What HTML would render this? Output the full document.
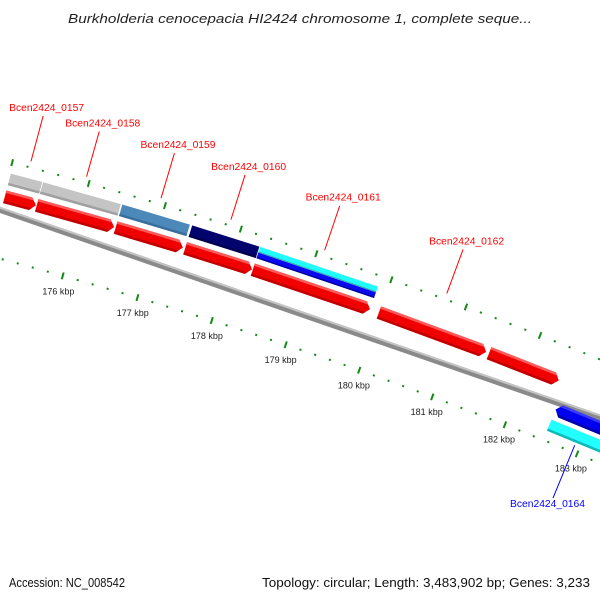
<!DOCTYPE html>
<html><head><meta charset="utf-8"><style>
html,body{margin:0;padding:0;background:#fff;width:600px;height:600px;overflow:hidden}
svg{display:block}
</style></head><body>
<svg id="map" width="600" height="600" viewBox="0 0 600 600" xmlns="http://www.w3.org/2000/svg" font-family="'Liberation Sans', 'DejaVu Sans', sans-serif">
<rect width="600" height="600" fill="#fff"/>
<text x="300" y="23" text-anchor="middle" font-size="13" font-style="italic" fill="#222" textLength="464" lengthAdjust="spacingAndGlyphs">Burkholderia cenocepacia HI2424 chromosome 1, complete seque...</text>
<g id="plot"></g>
<text x="9" y="587" font-size="12.5" fill="#111" textLength="116" lengthAdjust="spacingAndGlyphs">Accession: NC_008542</text>
<text x="262" y="587" font-size="12.5" fill="#111" textLength="328" lengthAdjust="spacingAndGlyphs">Topology: circular; Length: 3,483,902 bp; Genes: 3,233</text>
</svg>
<script>
// data (kbp)
const geneNames = ["Bcen2424_0157","Bcen2424_0158","Bcen2424_0159","Bcen2424_0160","Bcen2424_0161","Bcen2424_0162","Bcen2424_0163","Bcen2424_0164"];
const geneStart = [175.02,175.44,176.48,177.40,178.30,179.99,181.48,182.53];
const geneEnd   = [175.43,176.46,177.37,178.29,179.87,181.44,182.43,183.33];
const geneStrand = [1,1,1,1,1,1,1,-1];
const geneLabeled = [1,1,1,1,1,1,0,1];
const descColor = ["gray","gray","steel","navy","cyanblue","none","none","cyan"];
const majorTicks = [175,176,177,178,179,180,181,182,183,184];
const tickLabels = ["175 kbp","176 kbp","177 kbp","178 kbp","179 kbp","180 kbp","181 kbp","182 kbp","183 kbp","184 kbp"];

const NS = "http://www.w3.org/2000/svg";
const plot = document.getElementById('plot');
const CX = -1196, CY = 4745, R = 4690, PHI0 = 15.73, DEG_PER_KBP = 0.96;
function pt(k, off){
  const a = (PHI0 + (k - 176) * DEG_PER_KBP) * Math.PI / 180;
  const r = R + off;
  return [CX + r * Math.sin(a), CY - r * Math.cos(a)];
}
function poly(pts, fill){
  const p = document.createElementNS(NS, 'polygon');
  p.setAttribute('points', pts.map(q => q[0].toFixed(2) + ',' + q[1].toFixed(2)).join(' '));
  p.setAttribute('fill', fill);
  plot.appendChild(p);
  return p;
}
function band(k1, k2, o1, o2, fill){
  return poly([pt(k1,o2), pt(k2,o2), pt(k2,o1), pt(k1,o1)], fill);
}
function line(a, b, stroke, w){
  const l = document.createElementNS(NS, 'line');
  l.setAttribute('x1', a[0]); l.setAttribute('y1', a[1]);
  l.setAttribute('x2', b[0]); l.setAttribute('y2', b[1]);
  l.setAttribute('stroke', stroke); l.setAttribute('stroke-width', w);
  plot.appendChild(l);
  return l;
}

// backbone
const kMin = 174.4, kMax = 184.6;
const bb1 = band(kMin, kMax, 1, 7, '#8a8a8a');


const bb2 = band(kMin, kMax, 5, 7, '#c4c4c4');



// scale ticks
for (let i = 0; i <= 51; i++) {
  const k = 174.4 + i * 0.2;
  const isMajor = Math.abs(k - Math.round(k)) < 0.01;
  [49, -47].forEach(o => {
    const len = isMajor ? 7 : 2;
    const t = line(pt(k, o - len / 2), pt(k, o + len / 2), '#138a13', 2);
    
    
  });
}
majorTicks.forEach((k, i) => {
  const p = pt(k, -63);
  const t = document.createElementNS(NS, 'text');
  t.setAttribute('x', p[0].toFixed(1)); t.setAttribute('y', (p[1] + 3).toFixed(1));
  t.setAttribute('text-anchor', 'middle'); t.setAttribute('font-size', '9'); t.setAttribute('fill', '#222');
  t.textContent = tickLabels[i];
  
  
  plot.appendChild(t);
});

// description bars
const descPal = {gray:['#c4c4c4','#a0a0a0'], steel:['#4d88ba','#3a6f9b'], navy:['#03036e','#000050'], cyan:['#22ffff','#10b8b8']};
geneNames.forEach((n, i) => {
  const c = descColor[i];
  if (c === 'none') return;
  const o = geneStrand[i] > 0 ? 32 : -31;
  const k1 = geneStart[i], k2 = geneEnd[i];
  let el;
  if (c === 'cyanblue') {
    el = band(k1, k2, o - 6, o, '#0a0af0');
    band(k1, k2, o - 6, o - 4.5, '#0000a0');
    band(k1, k2, o, o + 6, '#1ffcfc');
    band(k1, k2, o, o + 1, '#40a0b0');
  } else {
    el = band(k1, k2, o - 6, o + 6, descPal[c][0]);
    band(k1, k2, o - 6, o - 3.5, descPal[c][1]);
  }
  
  
});

// gene arrows
const TIP = 0.07;
geneNames.forEach((n, i) => {
  const k1 = geneStart[i], k2 = geneEnd[i];
  const s = geneStrand[i];
  const o = s > 0 ? 14 : -14, h = 6.5;
  const isRev = s < 0;
  const base = isRev ? '#0000f0' : '#f00000';
  const light = isRev ? '#3a3aff' : '#ff5a5a';
  const dark = isRev ? '#0000a8' : '#c00000';
  let pts;
  if (!isRev) pts = [pt(k1,o+h), pt(k2-TIP,o+h), pt(k2,o), pt(k2-TIP,o-h), pt(k1,o-h)];
  else pts = [pt(k1,o), pt(k1+TIP,o+h), pt(k2,o+h), pt(k2,o-h), pt(k1+TIP,o-h)];
  const g = poly(pts, base);
  
  
  if (!isRev) {
    poly([pt(k1,o+h), pt(k2-TIP,o+h), pt(k2-TIP*0.6,o+h-2.5), pt(k1,o+h-2.5)], light);
    poly([pt(k1,o-h+2.5), pt(k2-TIP*0.6,o-h+2.5), pt(k2-TIP,o-h), pt(k1,o-h)], dark);
  } else {
    poly([pt(k1+TIP,o+h), pt(k2,o+h), pt(k2,o+h-2.5), pt(k1+TIP*0.6,o+h-2.5)], light);
    poly([pt(k1+TIP*0.6,o-h+2.5), pt(k2,o-h+2.5), pt(k2,o-h), pt(k1+TIP,o-h)], dark);
  }
});

// labels
geneNames.forEach((n, i) => {
  if (!geneLabeled[i]) return;
  const k = (geneStart[i] + geneEnd[i]) / 2;
  const fwd = geneStrand[i] > 0;
  const col = fwd ? '#ff0000' : '#0000ff';
  const a = fwd ? pt(k, 55) : pt(k, -40);
  const b = fwd ? pt(k, 102) : pt(k, -97);
  const l = line(a, b, col, 1);
  
  
  const t = document.createElementNS(NS, 'text');
  if (fwd) { t.setAttribute('x', (b[0] - 34).toFixed(1)); t.setAttribute('y', (b[1] - 5).toFixed(1)); }
  else { t.setAttribute('x', (b[0] - 43).toFixed(1)); t.setAttribute('y', (b[1] + 9).toFixed(1)); }
  t.setAttribute('font-size', '10'); t.setAttribute('fill', col);
  t.setAttribute('textLength', '75'); t.setAttribute('lengthAdjust', 'spacingAndGlyphs');
  t.textContent = n;
  
  
  plot.appendChild(t);
});
</script>
</body></html>
